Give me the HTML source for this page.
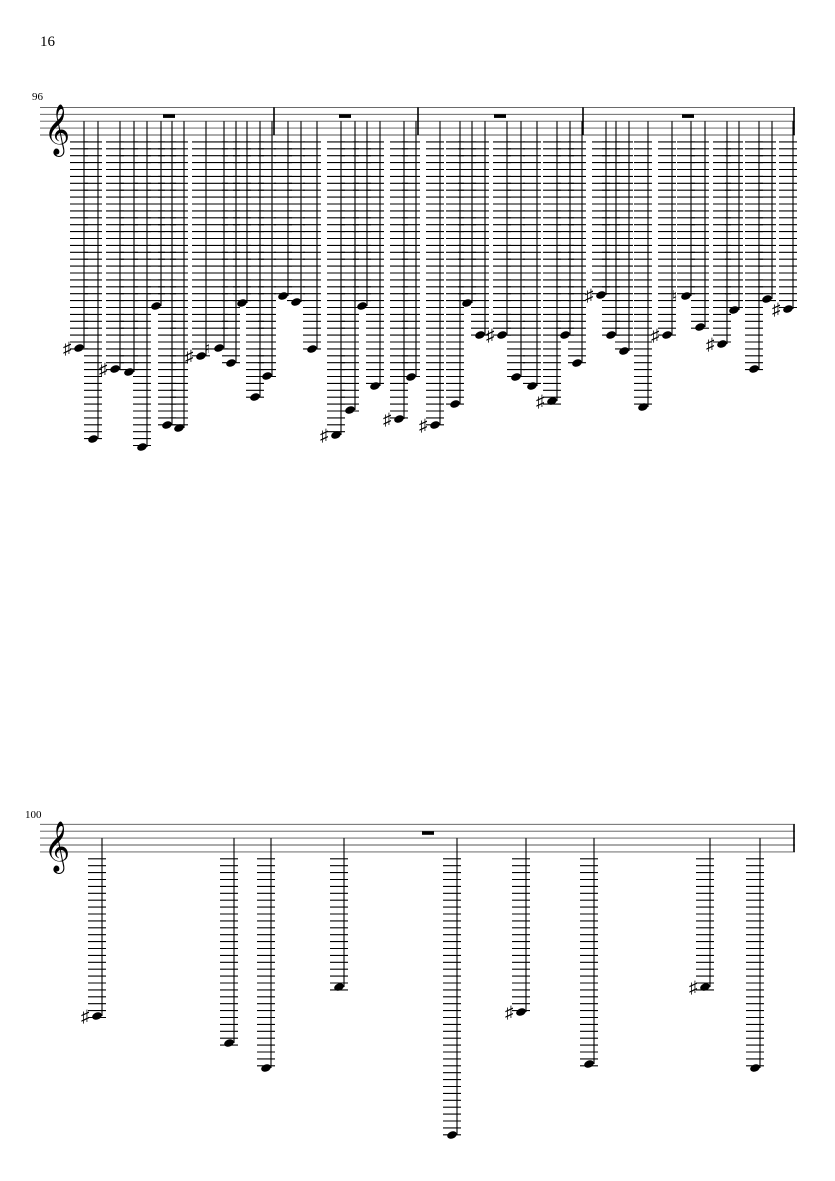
<!DOCTYPE html>
<html><head><meta charset="utf-8"><style>
html,body{margin:0;padding:0;background:#fff;width:835px;height:1181px;overflow:hidden}
svg{display:block}
text{font-family:"Liberation Serif","DejaVu Serif",serif;fill:#000}
</style></head><body>
<svg id="s" width="835" height="1181" xmlns="http://www.w3.org/2000/svg">
<text x="40" y="46" font-size="15">16</text>
<text x="32" y="100" font-size="11">96</text>
<text x="25" y="818" font-size="11">100</text>
</svg>
<script>
var svg=document.getElementById('s'),NS='http://www.w3.org/2000/svg';
function el(t,a,txt){var e=document.createElementNS(NS,t);for(var k in a)e.setAttribute(k,a[k]);if(txt)e.textContent=txt;svg.appendChild(e);return e;}
var S=6.9;
function staff(top,bars,notes,rests){
  for(var i=0;i<5;i++)el('line',{x1:40,x2:795,y1:top+i*S,y2:top+i*S,stroke:'#555','stroke-width':0.9});
  el('text',{x:44,y:top+4*S+9,'font-size':44,'font-family':'DejaVu Sans,serif'},'\uD834\uDD1E');
  bars.forEach(function(x){el('line',{x1:x,x2:x,y1:top,y2:top+4*S,stroke:'#000','stroke-width':1.6});});
  rests.forEach(function(x){el('rect',{x:x-6,y:top+S,width:12,height:3.6,fill:'#000'});});
  var bot=top+4*S,mid=top+2*S;
  notes.forEach(function(n){
    var hx=n[0],hy=n[1],sx=hx+5;
    for(var y=bot+S;y<=hy+S*0.5;y+=S)el('line',{x1:hx-9,x2:hx+9,y1:y,y2:y,stroke:'#000','stroke-width':1.1});
    el('line',{x1:sx,x2:sx,y1:mid,y2:hy,stroke:'#000','stroke-width':1.1});
    el('ellipse',{cx:hx,cy:hy,rx:5,ry:3.5,transform:'rotate(-22 '+hx+' '+hy+')',fill:'#000'});
    if(n[2]=='#')el('text',{x:hx-16,y:hy+6,'font-size':17,'font-family':'DejaVu Sans,sans-serif'},'\u266F');
    if(n[2]=='n')el('text',{x:hx-14,y:hy+5,'font-size':15,'font-family':'DejaVu Sans,sans-serif'},'\u266E');
  });
}
staff(107.4,[274,418,583,794],[
[79,348,'#'],[93,439],[115,369,'#'],[129,372],[142,447],[156,306],[167,425],[179,428],
[201,356,'#'],[219,348,'n'],[231,363],[242,303],[255,397],[267,376],
[283,296],[296,302],[312,349],[336,435,'#'],[350,410],[362,306],[375,386],[399,419,'#'],[411,377],
[435,425,'#'],[455,404],[467,303],[480,335],[502,335,'#'],[516,377],[532,386],[552,401,'#'],[565,335],[577,363],
[601,295,'#'],[611,335],[624,351],[643,407],[667,335,'#'],[686,296,'n'],[700,327],[722,344,'#'],[734,310],[754,369],[767,299],[788,309,'#']
],[169,345,500,688]);
staff(824.3,[794],[
[97,1016,'#'],[229,1043],[266,1068],[339,987],[452,1135],[521,1012,'#'],[589,1064],[705,987,'#'],[755,1068]
],[428]);
</script>
</body></html>
